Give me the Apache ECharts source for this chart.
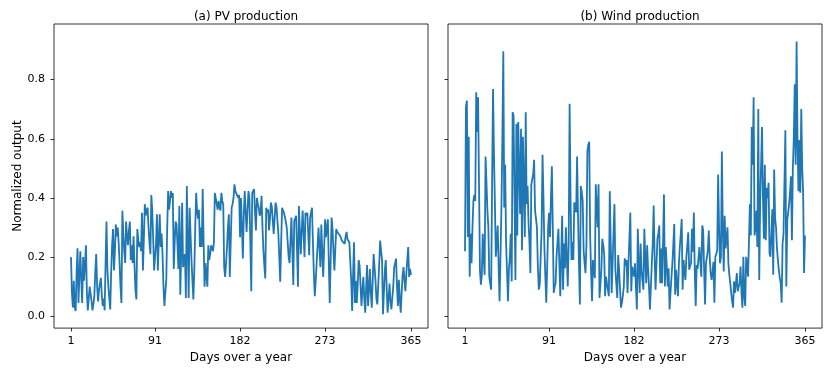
<!DOCTYPE html>
<html>
<head>
<meta charset="utf-8">
<script src="https://cdn.jsdelivr.net/npm/echarts@6/dist/echarts.min.js"></script>
<style>
html,body{margin:0;padding:0;background:#fff;}
#chart{width:828px;height:369px;}
</style>
</head>
<body>
<div id="chart"></div>
<script>
const titles = ['(a) PV production', '(b) Wind production'];
const xTicks = [1, 91, 182, 273, 365];
const yTicks = [0.0, 0.2, 0.4, 0.6, 0.8];
const xName = 'Days over a year';
const yName = 'Normalized output';

const pv = [
0.20,0.08,0.03,0.12,0.03,0.018,0.15,0.23,0.045,0.14,
0.22,0.12,0.045,0.20,0.12,0.18,0.24,0.08,0.02,0.06,
0.10,0.10,0.05,0.02,0.04,0.07,0.15,0.21,0.10,0.05,
0.09,0.11,0.13,0.07,0.035,0.06,0.02,0.18,0.32,0.155,
0.10,0.06,0.023,0.15,0.24,0.295,0.155,0.22,0.31,0.27,
0.30,0.25,0.18,0.10,0.045,0.357,0.28,0.22,0.18,0.32,
0.27,0.24,0.29,0.32,0.19,0.24,0.18,0.27,0.17,0.09,
0.057,0.295,0.26,0.234,0.25,0.22,0.35,0.155,0.26,0.379,
0.34,0.36,0.367,0.30,0.25,0.21,0.41,0.357,0.26,0.155,
0.20,0.245,0.345,0.155,0.26,0.345,0.234,0.28,0.21,0.10,
0.035,0.08,0.123,0.30,0.423,0.36,0.39,0.423,0.40,0.417,
0.16,0.25,0.32,0.31,0.24,0.16,0.373,0.073,0.22,0.384,
0.166,0.19,0.21,0.062,0.44,0.25,0.062,0.367,0.28,0.19,
0.12,0.057,0.155,0.30,0.417,0.357,0.33,0.36,0.234,0.30,
0.234,0.43,0.25,0.10,0.18,0.14,0.10,0.24,0.19,0.21,
0.24,0.234,0.22,0.25,0.417,0.417,0.38,0.36,0.39,0.37,
0.357,0.417,0.39,0.378,0.166,0.133,0.18,0.234,0.30,0.345,
0.133,0.25,0.367,0.38,0.40,0.446,0.423,0.42,0.417,0.40,
0.41,0.267,0.40,0.30,0.195,0.345,0.423,0.35,0.285,0.36,
0.423,0.40,0.25,0.085,0.417,0.42,0.43,0.35,0.29,0.40,
0.38,0.367,0.34,0.35,0.407,0.30,0.223,0.17,0.128,0.367,
0.35,0.362,0.29,0.33,0.384,0.37,0.367,0.278,0.33,0.384,
0.37,0.367,0.278,0.20,0.117,0.25,0.367,0.362,0.35,0.345,
0.32,0.30,0.25,0.20,0.18,0.26,0.334,0.22,0.106,0.323,
0.33,0.34,0.22,0.10,0.373,0.29,0.21,0.29,0.357,0.28,
0.20,0.35,0.34,0.35,0.28,0.206,0.334,0.35,0.367,0.25,
0.145,0.068,0.12,0.18,0.24,0.30,0.23,0.166,0.31,0.22,
0.133,0.23,0.328,0.267,0.30,0.328,0.18,0.045,0.19,0.334,
0.295,0.22,0.155,0.23,0.295,0.285,0.29,0.285,0.273,0.27,
0.256,0.26,0.256,0.245,0.27,0.285,0.26,0.256,0.25,0.256,
0.12,0.018,0.14,0.25,0.045,0.12,0.045,0.11,0.19,0.17,
0.166,0.035,0.09,0.133,0.06,0.012,0.10,0.173,0.035,0.09,
0.16,0.08,0.029,0.12,0.21,0.206,0.12,0.057,0.04,0.035,
0.18,0.256,0.22,0.19,0.007,0.08,0.155,0.19,0.09,0.012,
0.06,0.111,0.05,0.023,0.029,0.10,0.166,0.18,0.195,0.10,
0.035,0.123,0.06,0.012,0.08,0.139,0.166,0.12,0.085,0.145,
0.19,0.234,0.133,0.16,0.14
];

const wind = [
0.22,0.707,0.729,0.268,0.607,0.134,0.279,0.179,0.30,0.39,
0.41,0.39,0.757,0.623,0.74,0.45,0.157,0.107,0.14,0.279,
0.20,0.14,0.54,0.45,0.357,0.301,0.134,0.11,0.09,0.446,
0.768,0.55,0.385,0.201,0.25,0.307,0.168,0.051,0.20,0.368,
0.60,0.896,0.368,0.512,0.246,0.15,0.051,0.157,0.20,0.279,
0.118,0.69,0.679,0.40,0.123,0.651,0.273,0.657,0.50,0.346,
0.634,0.223,0.607,0.45,0.268,0.69,0.379,0.44,0.318,0.25,
0.146,0.446,0.451,0.48,0.529,0.357,0.33,0.301,0.168,0.09,
0.107,0.20,0.29,0.546,0.40,0.234,0.134,0.046,0.17,0.301,
0.35,0.268,0.40,0.507,0.30,0.079,0.10,0.112,0.201,0.25,
0.296,0.18,0.068,0.20,0.34,0.09,0.246,0.162,0.301,0.20,
0.101,0.246,0.718,0.40,0.19,0.251,0.19,0.385,0.37,0.351,
0.54,0.34,0.18,0.04,0.44,0.42,0.39,0.223,0.18,0.146,
0.24,0.557,0.58,0.59,0.268,0.15,0.051,0.19,0.16,0.129,
0.446,0.44,0.30,0.446,0.062,0.11,0.157,0.262,0.24,0.212,
0.068,0.134,0.11,0.09,0.068,0.423,0.25,0.079,0.179,0.28,
0.379,0.157,0.11,0.062,0.207,0.157,0.09,0.029,0.046,0.07,
0.101,0.196,0.17,0.19,0.079,0.179,0.26,0.351,0.084,0.168,
0.15,0.134,0.179,0.10,0.023,0.296,0.17,0.079,0.246,0.157,
0.12,0.09,0.296,0.20,0.112,0.24,0.16,0.101,0.023,0.10,
0.179,0.246,0.374,0.20,0.09,0.09,0.262,0.28,0.307,0.112,
0.229,0.112,0.25,0.412,0.101,0.234,0.17,0.101,0.162,0.023,
0.08,0.129,0.179,0.24,0.312,0.073,0.157,0.11,0.068,0.179,
0.234,0.28,0.329,0.09,0.19,0.15,0.123,0.201,0.24,0.284,
0.157,0.17,0.179,0.296,0.218,0.351,0.15,0.035,0.173,0.16,
0.157,0.234,0.18,0.134,0.307,0.29,0.16,0.04,0.179,0.20,
0.223,0.29,0.20,0.146,0.123,0.15,0.184,0.046,0.201,0.21,
0.223,0.479,0.30,0.179,0.201,0.557,0.30,0.151,0.34,0.229,
0.26,0.301,0.179,0.14,0.112,0.079,0.05,0.029,0.118,0.079,
0.11,0.146,0.084,0.10,0.112,0.168,0.079,0.029,0.201,0.068,
0.035,0.201,0.179,0.134,0.25,0.379,0.273,0.64,0.512,0.74,
0.273,0.30,0.357,0.234,0.701,0.123,0.385,0.39,0.64,0.40,
0.262,0.512,0.257,0.434,0.40,0.451,0.212,0.201,0.28,0.362,
0.14,0.496,0.329,0.301,0.229,0.19,0.157,0.13,0.112,0.046,
0.246,0.279,0.45,0.629,0.101,0.323,0.329,0.379,0.42,0.473,
0.257,0.501,0.60,0.784,0.512,0.929,0.59,0.423,0.596,0.418,
0.701,0.50,0.423,0.146,0.273
];

const toPairs = arr => arr.map((v, i) => [i + 1, v]);
const FONT = 'DejaVu Sans';
const xMin = -17.2, xMax = 383.2;
const yMin = -0.040, yMax = 0.988;

const grids = [
  {left: 54, top: 24, width: 374, height: 305},
  {left: 448, top: 24, width: 374, height: 305}
];

function xAxis(i) {
  return {
    type: 'value', gridIndex: i, min: xMin, max: xMax,
    name: xName, nameLocation: 'middle', nameGap: 23,
    nameTextStyle: {fontFamily: FONT, fontSize: 12, color: '#000'},
    axisLine: {show: false, onZero: false},
    splitLine: {show: false},
    axisTick: {show: true, length: 3.5, customValues: xTicks, lineStyle: {color: '#000', width: 0.8}},
    axisLabel: {show: true, customValues: xTicks, fontFamily: FONT, fontSize: 11, color: '#000', margin: 8}
  };
}
function yAxis(i) {
  return {
    type: 'value', gridIndex: i, min: yMin, max: yMax,
    name: i === 0 ? yName : '', nameLocation: 'middle', nameGap: 30,
    nameTextStyle: {fontFamily: FONT, fontSize: 12, color: '#000'},
    axisLine: {show: false, onZero: false},
    splitLine: {show: false},
    axisTick: {show: true, length: 3.5, customValues: yTicks, lineStyle: {color: '#000', width: 0.8}},
    axisLabel: {show: i === 0, customValues: yTicks, fontFamily: FONT, fontSize: 11, color: '#000', margin: 9,
      formatter: v => v.toFixed(1)}
  };
}

const chart = echarts.init(document.getElementById('chart'), null, {renderer: 'canvas'});
chart.setOption({
  animation: false,
  backgroundColor: '#fff',
  title: titles.map((t, i) => ({
    text: t, left: grids[i].left + grids[i].width / 2, top: 6, textAlign: 'center',
    textStyle: {fontFamily: FONT, fontSize: 12, fontWeight: 'normal', color: '#000'}
  })),
  grid: grids.map(g => Object.assign({show: true, borderColor: '#000', borderWidth: 0.8, backgroundColor: 'transparent', containLabel: false}, g)),
  xAxis: [xAxis(0), xAxis(1)],
  yAxis: [yAxis(0), yAxis(1)],
  series: [
    {type: 'line', xAxisIndex: 0, yAxisIndex: 0, data: toPairs(pv), showSymbol: false, symbol: 'none',
      lineStyle: {color: '#1f77b4', width: 1.8}, clip: true},
    {type: 'line', xAxisIndex: 1, yAxisIndex: 1, data: toPairs(wind), showSymbol: false, symbol: 'none',
      lineStyle: {color: '#1f77b4', width: 1.8}, clip: true}
  ]
});
</script>
</body>
</html>
